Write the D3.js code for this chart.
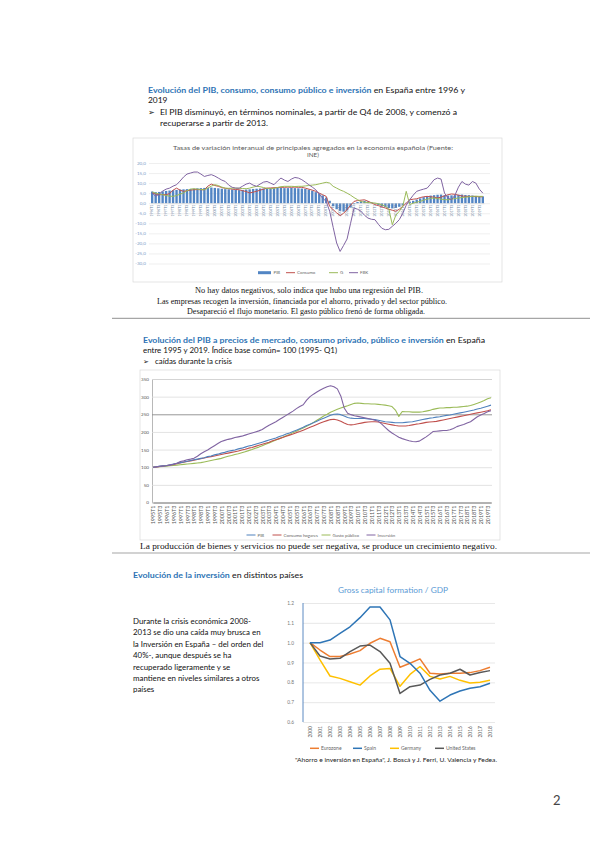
<!DOCTYPE html>
<html lang="es">
<head>
<meta charset="UTF-8">
<title>Evolución del PIB, consumo e inversión</title>
<script src="https://cdn.jsdelivr.net/npm/d3@7/dist/d3.min.js"></script>
<style>
  html, body { margin: 0; padding: 0; background: #fff; }
  svg { display: block; }
</style>
</head>
<body>
<svg id="page" width="600" height="848"></svg>
<script>
// ---- datos gráfico 1: tasas de variación interanual (1996T1 - 2019T4)
const years1 = [1996, 1997, 1998, 1999, 2000, 2001, 2002, 2003, 2004, 2005, 2006, 2007,
  2008, 2009, 2010, 2011, 2012, 2013, 2014, 2015, 2016, 2017, 2018, 2019]
const quarters = ['T1', 'T2', 'T3', 'T4']
const ticks1 = [20, 15, 10, 5, 0, -5, -10, -15, -20, -25, -30]
const pib1 = [5.8, 5.5, 5.6, 5.9, 6.1, 6.3, 6.5, 6.6, 6.8, 6.9, 7, 7.1, 7.2, 7.4, 7.5, 7.6,
  7.7, 7.8, 7.6, 7.4, 7.2, 7, 6.9, 6.8, 6.6, 6.5, 6.6, 6.8, 6.9, 7.1, 7.2, 7.3,
  7.3, 7.4, 7.5, 7.5, 7.6, 7.6, 7.5, 7.5, 7.6, 7.5, 7.4, 7.3, 7.1, 6.8, 6.2, 5.5,
  4.8, 3.9, 2.8, 1.2, -1.5, -3, -3.8, -4.2, -3.5, -2.2, -0.5, 0.6, 1, 1.2, 0.9, 0.5,
  -0.3, -1, -1.5, -2, -2.4, -2.6, -2.3, -1.8, -1, 0.2, 0.8, 1.2, 1.8, 2.4, 3, 3.5,
  3.8, 4, 4.2, 4.3, 4, 3.8, 3.9, 4, 4.2, 4.3, 4.1, 4, 3.8, 3.6, 3.5, 3.4]
const consumo1 = [5.1, 4.6, 4.2, 4.3, 4.2, 4.8, 6.5, 7.5, 6.5, 5.9, 6.2, 6.5, 6.7, 6.8, 6.7, 6.7,
  8.5, 9.5, 8.8, 8.4, 7.8, 7.4, 7.2, 7, 6.8, 6.7, 6.2, 5.8, 5.1, 5.5, 5.9, 6.5,
  7, 7.5, 7.6, 7.7, 7.8, 7.9, 7.9, 8, 7.9, 8, 7.9, 7.9, 7.5, 7, 6.5, 5.9,
  5, 4.2, 3.4, -1.6, -3.2, -4.8, -6.2, -5, -3.2, -1, 0.9, 1.3, 1.5, 1.7, 1, 0.2,
  -0.7, -1.2, -1.8, -2.4, -3, -3.5, -4, -3, -1.6, 0, 1.7, 2, 2.2, 2.8, 3.2, 3.4,
  3.2, 3, 2.6, 3, 3.6, 4.2, 4.6, 4.4, 4, 3.6, 3.4, 3.4, 3.4, 3.3, 3.2, 3.2]
const g1 = [5.6, 5, 4.6, 4.2, 3.8, 3.5, 3.4, 3.8, 4.5, 5.1, 6.2, 7, 7.2, 7, 6.8, 6.7,
  7.5, 8.5, 9.2, 8.8, 8, 7.5, 7.4, 7.5, 7.5, 7.4, 7.3, 7.2, 7.5, 8, 8.4, 8.2,
  7.8, 7.4, 7.2, 7.4, 7.8, 8.2, 8.4, 8.4, 8.4, 8.3, 8.4, 8.4, 8.6, 8.8, 9, 9.2,
  9.6, 10, 10.4, 10, 8.4, 7.5, 6.6, 5.9, 5, 4, 2.8, 1.8, 0.8, 0.5, 0.3, 0.2,
  0.1, -0.3, -0.8, -1.5, -3, -10.7, -6, -4, -1.5, 5.9, -0.7, 0, 0.5, 0.9, 1.5, 2,
  2.4, 2.6, 2.3, 2, 1.8, 1.7, 2, 2.3, 2.6, 2.8, 3, 3.2, 3.4, 3.5, 3.4, 3.4]
const fbk1 = [5.1, 3.4, 4.5, 6, 7, 7.5, 8.5, 9.2, 11, 13, 14.5, 15, 15.5, 15.5, 14.5, 13.3,
  13.8, 14.2, 13.5, 12.5, 11.5, 10.8, 9, 7.9, 7.5, 7.5, 8.5, 9.5, 10, 9, 8.4, 9.5,
  10.5, 10.8, 10, 9.2, 11, 12.5, 11.5, 10.8, 12, 12.8, 12.5, 11.7, 10.5, 9.2, 8, 6.7,
  4.5, 2.5, 0.9, -4, -12, -19.8, -24, -21, -17.8, -10, -2.4, -3, -4, -6,
  -7.4, -8, -8.2, -10.5, -12.5, -13.2, -13, -11.5, -10, -8.2, -5, -1, 1.7, 4, 5.9, 6.5,
  7, 7.5, 9.5, 11.7, 12.5, 12, 5, 2.6, 1.7, 4, 8, 10.8, 9.5, 9, 10.8, 10, 7, 5]

// ---- datos gráfico 2: índice base común 100 (1995T1 - 2019T4)
const years2 = [1995, 1996, 1997, 1998, 1999, 2000, 2001, 2002, 2003, 2004, 2005, 2006, 2007,
  2008, 2009, 2010, 2011, 2012, 2013, 2014, 2015, 2016, 2017, 2018, 2019]
const ticks2 = [0, 50, 100, 150, 200, 250, 300, 350]
const pib2 = [100, 101.5, 103, 104, 105, 107, 109, 111, 113, 115, 117, 119, 121, 123, 125, 127,
  130, 132, 135, 137, 140, 142, 145, 147, 149, 152, 154, 157, 160, 162, 165, 168,
  171, 174, 177, 180, 183, 187, 190, 194, 197, 201, 205, 209, 213, 218, 222, 226,
  230, 235, 239, 243, 247, 250, 251, 249, 245, 241, 239, 238, 238, 238, 238, 237,
  236, 235, 233, 231, 229, 228, 227, 226, 226, 226, 227, 228, 229, 231, 233, 235,
  237, 239, 240, 242, 243, 245, 247, 248, 250, 252, 254, 256, 258, 260, 262, 265,
  267, 270, 273, 276]
const hogares2 = [100, 101, 102.5, 104, 105, 106.5, 108, 110, 112, 114, 116, 118, 120, 122, 124, 126,
  128, 130, 132, 134, 136, 138, 140, 142, 144, 146, 149, 151, 154, 156, 159, 162,
  165, 168, 171, 175, 178, 181, 184, 188, 191, 194, 198, 201, 205, 209, 213, 217,
  221, 225, 229, 232, 235, 236, 234, 230, 225, 221, 220, 221, 223, 225, 227, 228,
  229, 229, 228, 226, 224, 222, 220, 218, 217, 217, 217, 218, 220, 222, 223, 225,
  227, 228, 229, 230, 232, 234, 236, 238, 240, 242, 244, 246, 248, 250, 252, 254,
  256, 258, 260, 263]
const publico2 = [100, 101, 101.5, 102, 103, 104, 105, 106, 107, 108, 109, 110, 111, 112, 113, 115,
  117, 119, 121, 123, 125, 128, 131, 133, 136, 138, 141, 144, 147, 150, 154, 157,
  161, 165, 169, 173, 177, 181, 185, 189, 193, 198, 202, 207, 211, 216, 221, 227,
  233, 239, 245, 250, 256, 260, 264, 268, 271, 274, 278, 281, 282, 281, 280, 280,
  279, 279, 278, 277, 276, 274, 272, 262, 244, 258, 257, 257, 256, 256, 256, 257,
  259, 261, 264, 266, 268, 268, 269, 269, 270, 270, 271, 272, 273, 275, 278, 281,
  285, 289, 294, 297]
const inversion2 = [100, 101, 102, 103, 104, 106, 108, 111, 116, 118, 121, 123, 125.5, 131, 138, 144,
  149, 155, 161, 167, 173, 176, 179, 181, 184, 186, 188, 191, 194, 197, 200, 203,
  207, 213, 219, 224, 229, 235, 241, 247, 253, 259, 266, 272, 277, 290, 300, 307,
  313, 319, 324, 328, 331, 328, 322, 302, 268, 253, 249, 246, 244, 242, 240, 238,
  236, 233, 230, 222, 213, 204, 197, 191, 185, 181, 178, 175, 173, 172, 174, 180,
  186, 193, 201, 202, 203, 204, 204, 206, 210, 215, 218, 221, 225, 229, 236, 243,
  248, 252, 257, 260]

// ---- datos gráfico 3: Gross capital formation / GDP (2000 = 1)
const years3 = [2000, 2001, 2002, 2003, 2004, 2005, 2006, 2007, 2008, 2009,
  2010, 2011, 2012, 2013, 2014, 2015, 2016, 2017, 2018]
const ticks3 = [0.6, 0.7, 0.8, 0.9, 1.0, 1.1, 1.2]
const eurozone = [1, 0.963, 0.93, 0.93, 0.943, 0.96, 0.997, 1.022, 1.005, 0.876,
  0.896, 0.918, 0.846, 0.842, 0.846, 0.846, 0.849, 0.859, 0.876]
const spain = [1, 1, 1.013, 1.047, 1.08, 1.126, 1.18, 1.18, 1.115, 0.93,
  0.896, 0.846, 0.76, 0.705, 0.736, 0.756, 0.77, 0.778, 0.795]
const germany = [1, 0.913, 0.832, 0.82, 0.803, 0.786, 0.832, 0.866, 0.87, 0.78,
  0.84, 0.88, 0.83, 0.817, 0.83, 0.81, 0.797, 0.8, 0.81]
const usa = [1, 0.933, 0.918, 0.921, 0.955, 0.983, 0.988, 0.955, 0.896, 0.744,
  0.778, 0.786, 0.815, 0.837, 0.846, 0.866, 0.837, 0.85, 0.859]

const svg = d3.select('#page')
const sans = 'Lato, "Liberation Sans", sans-serif'
const serif = '"Liberation Serif", "DejaVu Serif", serif'
const blueTitle = '#2e74b5'
const es = d3.formatLocale({ decimal: ',', thousands: '.', grouping: [3], currency: ['', ' €'], minus: '-' })

// texto con partes de distinto color
function txt(x, y, parts, size, opts = {}) {
  const t = svg.append('text')
    .attr('x', x).attr('y', y)
    .attr('text-anchor', opts.anchor || 'start')
    .style('font-family', opts.font || sans)
    .style('font-size', size + 'px')
  if (opts.len) t.attr('textLength', opts.len).attr('lengthAdjust', 'spacingAndGlyphs')
  parts.forEach(p => {
    t.append('tspan').text(p[0]).attr('fill', p[1] || '#111').style('font-weight', p[2] || 'normal')
  })
  return t
}
function hline(x1, x2, y, color, w) {
  svg.append('line').attr('x1', x1).attr('x2', x2).attr('y1', y).attr('y2', y)
    .attr('stroke', color).attr('stroke-width', w)
}
function legendLine(g, x, y, color, label, size, w = 1) {
  g.append('line').attr('x1', x).attr('x2', x + 9).attr('y1', y).attr('y2', y)
    .attr('stroke', color).attr('stroke-width', w)
  g.append('text').attr('x', x + 11).attr('y', y).attr('dy', '0.35em')
    .style('font-family', sans).style('font-size', size + 'px').attr('fill', '#666').text(label)
}

// ================= sección 1 =================
txt(148, 93, [['Evolución del PIB, consumo, consumo público e inversión', blueTitle, 'bold'],
  [' en España entre 1996 y']], 8.4, { len: 317 })
txt(148, 103, [['2019']], 8.4)
txt(148, 114.5, [['➢']], 7.5)
txt(160, 114.5, [['El PIB disminuyó, en términos nominales, a partir de Q4 de 2008, y comenzó a']], 8.4, { len: 297 })
txt(160, 126, [['recuperarse a partir de 2013.']], 8.4, { len: 108 })

// caja gráfico 1
svg.append('rect').attr('x', 133).attr('y', 138).attr('width', 369).attr('height', 144)
  .attr('fill', '#fff').attr('stroke', '#d9d9d9').attr('stroke-width', 0.7)
txt(313, 149.5, [['Tasas de variación interanual de principales agregados en la economía española (Fuente:', '#595959']], 6.3, { anchor: 'middle', len: 280 })
txt(313, 156.5, [['INE)', '#595959']], 6.3, { anchor: 'middle' })

const c1 = { left: 151, right: 484, top: 163, bottom: 263.5 }
const q1 = years1.flatMap(y => quarters.map(q => y + q))
const x1 = d3.scaleBand().domain(q1).range([c1.left, c1.right]).paddingInner(0.32)
const y1 = d3.scaleLinear().domain([-30, 20]).range([c1.bottom, c1.top])

const ax1 = svg.append('g').attr('transform', `translate(${c1.left - 2},0)`)
  .call(d3.axisLeft(y1).tickValues(ticks1).tickFormat(es.format('.1f'))
    .tickSize(-(c1.right - c1.left + 8)).tickPadding(3))
ax1.select('.domain').remove()
ax1.selectAll('.tick line').attr('stroke', '#e4e4e4').attr('stroke-width', 0.6)
ax1.selectAll('.tick text').attr('fill', '#7c9cc8')
  .style('font-family', sans).style('font-size', '4.6px')

const bw1 = x1.bandwidth()
svg.append('g').selectAll('rect').data(pib1).join('rect')
  .attr('x', (d, i) => x1(q1[i]))
  .attr('width', bw1)
  .attr('y', d => Math.min(y1(d), y1(0)))
  .attr('height', d => Math.abs(y1(d) - y1(0)))
  .attr('fill', '#5285c4')

const xa1 = svg.append('g').attr('transform', `translate(0,${y1(0)})`)
  .call(d3.axisBottom(x1).tickValues(q1.filter((d, i) => i % 2 === 0)).tickSize(0))
xa1.select('.domain').attr('stroke', '#d0d0d0').attr('stroke-width', 0.5)
xa1.selectAll('.tick text')
  .attr('x', 0).attr('y', 0).attr('dy', '0.35em')
  .attr('transform', 'translate(0,1.5) rotate(-90)')
  .attr('text-anchor', 'end')
  .attr('fill', '#6b7f9c')
  .style('font-family', sans).style('font-size', '3.4px')

const line1 = d3.line().x((d, i) => x1(q1[i]) + bw1 / 2).y(d => y1(d))
;[[consumo1, '#c0504d'], [g1, '#9bbb59'], [fbk1, '#8064a2']].forEach(([s, c]) => {
  svg.append('path').attr('d', line1(s)).attr('fill', 'none')
    .attr('stroke', c).attr('stroke-width', 1).attr('stroke-linejoin', 'round')
})

const lg1 = svg.append('g')
lg1.append('rect').attr('x', 258).attr('y', 271.2).attr('width', 13).attr('height', 3).attr('fill', '#5285c4')
lg1.append('text').attr('x', 273.5).attr('y', 272.7).attr('dy', '0.35em')
  .style('font-family', sans).style('font-size', '4.4px').attr('fill', '#666').text('PIB')
legendLine(lg1, 286, 272.7, '#c0504d', 'Consumo', 4.4)
legendLine(lg1, 329, 272.7, '#9bbb59', 'G', 4.4)
legendLine(lg1, 349, 272.7, '#8064a2', 'FBK', 4.4)

txt(195, 293, [['No hay datos negativos, solo indica que hubo una regresión del PIB.']], 7.5, { font: serif, len: 228 })
txt(157, 303.5, [['Las empresas recogen la inversión, financiada por el ahorro, privado y del sector público.']], 7.5, { font: serif, len: 290 })
txt(187, 314, [['Desapareció el flujo monetario. El gasto público frenó de forma obligada.']], 7.5, { font: serif, len: 238 })

hline(112, 590, 318.3, '#a6a6a6', 1.2)

// ================= sección 2 =================
txt(143, 343, [['Evolución del PIB a precios de mercado, consumo privado, público e inversión', blueTitle, 'bold'],
  [' en España']], 8.4, { len: 342 })
txt(143, 353.3, [['entre 1995 y 2019. Índice base común= 100 (1995- Q1)']], 7.6, { len: 194 })
txt(143, 363.7, [['➢']], 6.8)
txt(155, 363.7, [['caídas durante la crisis']], 7.6, { len: 77 })

svg.append('rect').attr('x', 140).attr('y', 370).attr('width', 360).attr('height', 170)
  .attr('fill', '#fff').attr('stroke', '#d9d9d9').attr('stroke-width', 0.7)

const c2 = { left: 152, right: 492, top: 379, bottom: 502.5 }
const q2 = years2.flatMap(y => quarters.map(q => y + q))
const x2 = d3.scalePoint().domain(q2).range([c2.left + 1, c2.right - 1])
const y2 = d3.scaleLinear().domain([0, 350]).range([c2.bottom, c2.top])

const ax2 = svg.append('g').attr('transform', `translate(${c2.left},0)`)
  .call(d3.axisLeft(y2).tickValues(ticks2).tickSize(-(c2.right - c2.left)).tickPadding(3))
ax2.select('.domain').attr('stroke', '#888').attr('stroke-width', 0.6)
ax2.selectAll('.tick line').attr('stroke', d => d === 250 ? '#8c8c8c' : '#dadada')
  .attr('stroke-width', d => d === 250 ? 0.9 : 0.8)
ax2.selectAll('.tick text').attr('fill', '#555').style('font-family', sans).style('font-size', '4.6px')

const xa2 = svg.append('g').attr('transform', `translate(0,${c2.bottom})`)
  .call(d3.axisBottom(x2).tickValues(q2.filter((d, i) => i % 2 === 0)).tickSize(0))
xa2.select('.domain').attr('stroke', '#777').attr('stroke-width', 0.8)
xa2.selectAll('.tick text')
  .attr('x', 0).attr('y', 0).attr('dy', '0.35em')
  .attr('transform', 'translate(0,3) rotate(-90)')
  .attr('text-anchor', 'end')
  .attr('fill', '#555')
  .style('font-family', sans).style('font-size', '5.4px')

const line2 = d3.line().x((d, i) => x2(q2[i])).y(d => y2(d))
;[[publico2, '#9bbb59'], [hogares2, '#c0504d'], [pib2, '#4f81bd'], [inversion2, '#8064a2']].forEach(([s, c]) => {
  svg.append('path').attr('d', line2(s)).attr('fill', 'none')
    .attr('stroke', c).attr('stroke-width', 1.1).attr('stroke-linejoin', 'round')
})

const lg2 = svg.append('g')
legendLine(lg2, 246.5, 535, '#4f81bd', 'PIB', 4.4)
legendLine(lg2, 272.5, 535, '#c0504d', 'Consumo hogares', 4.4)
legendLine(lg2, 321.5, 535, '#9bbb59', 'Gasto público', 4.4)
legendLine(lg2, 366.5, 535, '#8064a2', 'Inversión', 4.4)

txt(140, 548.5, [['La producción de bienes y servicios no puede ser negativa, se produce un crecimiento negativo.']], 7.5, { font: serif, len: 357 })

hline(112, 590, 553, '#a6a6a6', 1.2)

// ================= sección 3 =================
txt(133, 578, [['Evolución de la inversión', blueTitle, 'bold'], [' en distintos países']], 8.4, { len: 170 })

const para = ['Durante la crisis económica 2008-', '2013 se dio una caída muy brusca en',
  'la Inversión en España – del orden del', '40%-, aunque después se ha',
  'recuperado ligeramente y se', 'mantiene en niveles similares a otros', 'países']
para.forEach((l, i) => txt(133, 624 + i * 11.4, [[l]], 7.9))

txt(393, 592.5, [['Gross capital formation / GDP', '#5b9bd5']], 7.8, { anchor: 'middle', len: 110 })

const c3 = { left: 303, right: 495, top: 603, bottom: 722 }
const x3 = d3.scalePoint().domain(years3).range([310, 490])
const y3 = d3.scaleLinear().domain([0.6, 1.2]).range([c3.bottom, c3.top])

const ax3 = svg.append('g').attr('transform', `translate(${c3.left},0)`)
  .call(d3.axisLeft(y3).tickValues(ticks3).tickFormat(d3.format('.1f'))
    .tickSize(-(c3.right - c3.left)).tickPadding(9))
ax3.select('.domain').remove()
ax3.selectAll('.tick line').attr('stroke', '#dedede').attr('stroke-width', 0.7)
ax3.selectAll('.tick text').attr('fill', '#777').style('font-family', sans).style('font-size', '4.8px')
svg.append('line').attr('x1', c3.left).attr('x2', c3.left).attr('y1', c3.top).attr('y2', c3.bottom)
  .attr('stroke', '#4a7ebb').attr('stroke-width', 0.9)

const xa3 = svg.append('g').attr('transform', `translate(0,${c3.bottom})`)
  .call(d3.axisBottom(x3).tickSize(0))
xa3.select('.domain').remove()
xa3.selectAll('.tick text')
  .attr('x', 0).attr('y', 0).attr('dy', '0.35em')
  .attr('transform', 'translate(0,4) rotate(-90)')
  .attr('text-anchor', 'end')
  .attr('fill', '#555')
  .style('font-family', sans).style('font-size', '5px')

const line3 = d3.line().x((d, i) => x3(years3[i])).y(d => y3(d))
;[[eurozone, '#ed7d31'], [germany, '#ffc000'], [usa, '#595959'], [spain, '#2e75b6']].forEach(([s, c]) => {
  svg.append('path').attr('d', line3(s)).attr('fill', 'none')
    .attr('stroke', c).attr('stroke-width', 1.5).attr('stroke-linejoin', 'round')
})

const lg3 = svg.append('g')
legendLine(lg3, 310, 748.3, '#ed7d31', 'Eurozone', 5, 1.5)
legendLine(lg3, 353, 748.3, '#2e75b6', 'Spain', 5, 1.5)
legendLine(lg3, 390, 748.3, '#ffc000', 'Germany', 5, 1.5)
legendLine(lg3, 435, 748.3, '#595959', 'United States', 5, 1.5)

txt(295, 762, [['"Ahorro e inversión en España", J. Boscá y J. Ferri, U. Valencia y Fedea.', '#222']], 5.8, { len: 202 })

// número de página
txt(553, 805, [['2', '#444']], 13)
</script>
</body>
</html>
